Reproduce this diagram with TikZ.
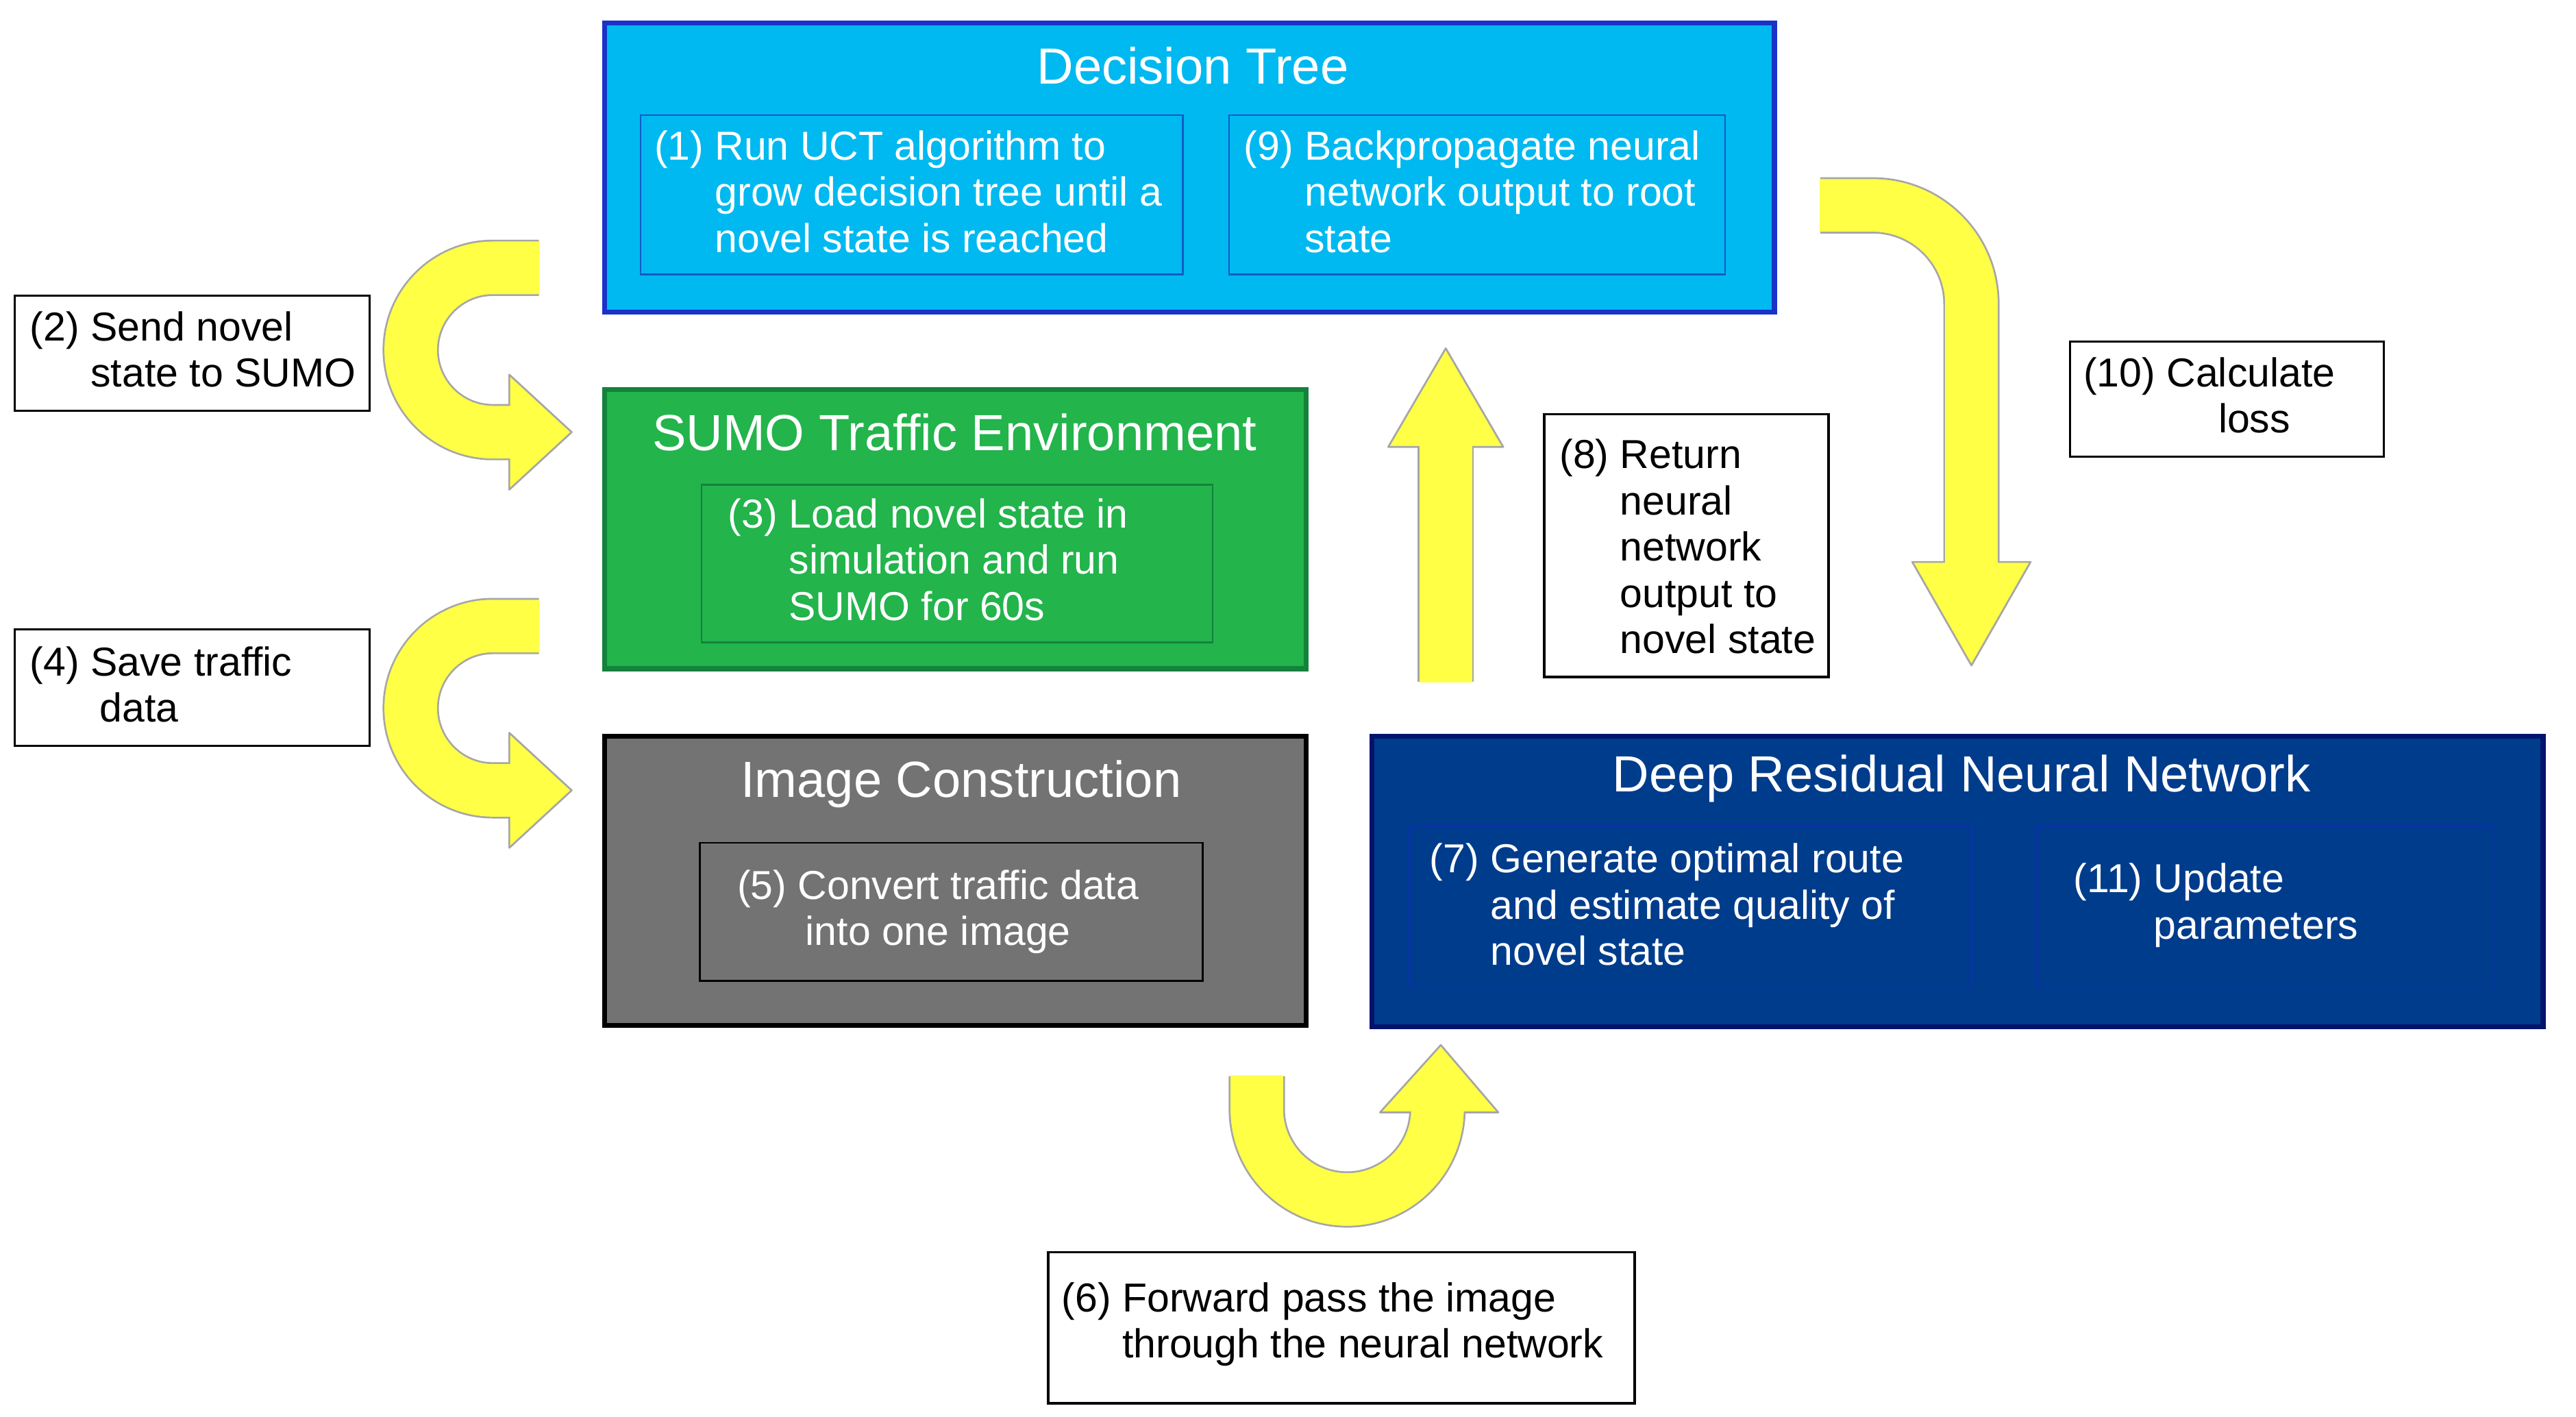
\documentclass[tikz,border=0pt]{standalone}
\usepackage{fontspec}
\setmainfont{Liberation Sans}
\begin{document}
\begin{tikzpicture}[x=0.025cm,y=0.025cm,
  box/.style={draw,line width=2.2pt,inner sep=0},
  ibox/.style={draw,line width=0.7pt,inner sep=0},
  lbl/.style={draw=black,line width=1pt,fill=white,inner sep=0},
  title/.style={text=white,font=\fontsize{22}{26}\selectfont,inner sep=0},
  txt/.style={align=left,anchor=west,inner sep=0,font=\fontsize{17.5}{20}\selectfont},
  wtxt/.style={txt,text=white},
  body/.style={line width=0.8cm,color=ylw,line cap=butt},
  bodyo/.style={line width=0.8cm+1.6pt,color=gray!70,line cap=butt},
  head/.style={fill=ylw,draw=gray!70,line width=0.8pt,line join=round}]
\definecolor{ylw}{RGB}{255,255,70}
\definecolor{cyanf}{RGB}{0,185,240}
\definecolor{cyand}{RGB}{25,50,200}
\definecolor{cyani}{RGB}{20,90,200}
\definecolor{grnf}{RGB}{35,180,75}
\definecolor{grnd}{RGB}{20,130,60}
\definecolor{gryf}{RGB}{115,115,115}
\definecolor{navf}{RGB}{0,60,140}
\definecolor{navd}{RGB}{0,20,110}
\definecolor{navi}{RGB}{10,50,170}
\useasboundingbox (0,0) rectangle (1568,-862);
% main boxes
\draw[box,draw=cyand,fill=cyanf] (368,-14) rectangle (1080,-190);
\coordinate (dt) at (368,-14);
\draw[box,draw=grnd,fill=grnf] (368,-237) rectangle (795,-407);
\draw[box,draw=black,fill=gryf] (368,-448) rectangle (795,-624);
\draw[box,draw=navd,fill=navf] (835,-448) rectangle (1548,-625);
% inner boxes
\draw[ibox,draw=cyani] (390,-70) rectangle (720,-167);
\draw[ibox,draw=cyani] (748,-70) rectangle (1050,-167);
\draw[ibox,draw=grnd] (427,-295) rectangle (738,-391);
\draw[ibox,draw=black] (426,-513) rectangle (732,-597);
\draw[ibox,draw=navi] (858,-503) rectangle (1200,-601);
\draw[ibox,draw=navi] (1240,-503) rectangle (1518,-601);
% titles
\node[title] (t1) at (726,-40) {Decision Tree};
\node[title] (t2) at (581,-263) {SUMO Traffic Environment};
\node[title] (t3) at (585,-477) {Image Construction};
\node[title] (t4) at (1194,-474) {Deep Residual Neural Network};
% inner texts
\node[wtxt] (s1) at (398,-119) {(1) Run UCT algorithm to\\\phantom{(1) }grow decision tree until a\\\phantom{(1) }novel state is reached};
\node[wtxt] (s9) at (757,-119) {(9) Backpropagate neural\\\phantom{(9) }network output to root\\\phantom{(9) }state};
\node[wtxt] (s3) at (443,-343) {(3) Load novel state in\\\phantom{(3) }simulation and run\\\phantom{(3) }SUMO for 60s};
\node[txt,text=white,align=center,anchor=center] (s5) at (571,-555) {(5) Convert traffic data\\into one image};
\node[wtxt] (s7) at (870,-553) {(7) Generate optimal route\\\phantom{(7) }and estimate quality of\\\phantom{(7) }novel state};
\node[wtxt] (s11) at (1262,-551) {(11) Update\\\phantom{(11) }parameters};
% label boxes
\draw[lbl] (9,-180) rectangle (225,-250);
\node[txt] (s2) at (18,-215) {(2) Send novel\\\phantom{(2) }state to SUMO};
\draw[lbl] (9,-383) rectangle (225,-454);
\node[txt] (s4) at (18,-419) {(4) Save traffic\\\phantom{(4) i}data};
\draw[lbl] (940,-252) rectangle (1113,-412);
\node[txt] (s8) at (949,-335) {(8) Return\\\phantom{(8) }neural\\\phantom{(8) }network\\\phantom{(8) }output to\\\phantom{(8) }novel state};
\draw[lbl] (1260,-208) rectangle (1451,-278);
\node[txt] (s10) at (1268,-243) {(10) Calculate\\\phantom{(10) Ca}loss};
\draw[lbl] (638,-762) rectangle (995,-854);
\node[txt] (s6) at (646,-806) {(6) Forward pass the image\\\phantom{(6) }through the neural network};
% arrow (2)
\draw[bodyo] (328,-163) -- (300,-163) arc[start angle=90,end angle=270,radius=50] -- (310,-263);
\draw[head] (310,-228) -- (348,-263) -- (310,-298) -- cycle;
\draw[body] (328.5,-163) -- (300,-163) arc[start angle=90,end angle=270,radius=50] -- (312,-263);
% arrow (4)
\draw[bodyo] (328,-381) -- (300,-381) arc[start angle=90,end angle=270,radius=50] -- (310,-481);
\draw[head] (310,-446) -- (348,-481) -- (310,-516) -- cycle;
\draw[body] (328.5,-381) -- (300,-381) arc[start angle=90,end angle=270,radius=50] -- (312,-481);
% arrow (8)
\draw[bodyo] (880,-415) -- (880,-272);
\draw[head] (845,-272) -- (880,-212) -- (915,-272) -- cycle;
\draw[body] (880,-415.5) -- (880,-270);
% arrow (10)
\draw[bodyo] (1108,-125) -- (1140,-125) arc[start angle=90,end angle=0,radius=60] -- (1200,-342);
\draw[head] (1164,-342) -- (1200,-405) -- (1236,-342) -- cycle;
\draw[body] (1107.5,-125) -- (1140,-125) arc[start angle=90,end angle=0,radius=60] -- (1200,-344);
% arrow (6)
\draw[bodyo] (765,-655) -- (765,-675) arc[start angle=180,end angle=360,radius=55] -- (875,-677);
\draw[head] (840,-677) -- (877,-636) -- (912,-677) -- cycle;
\draw[body] (765,-654.5) -- (765,-675) arc[start angle=180,end angle=360,radius=55] -- (875,-675);
\end{tikzpicture}
\end{document}
